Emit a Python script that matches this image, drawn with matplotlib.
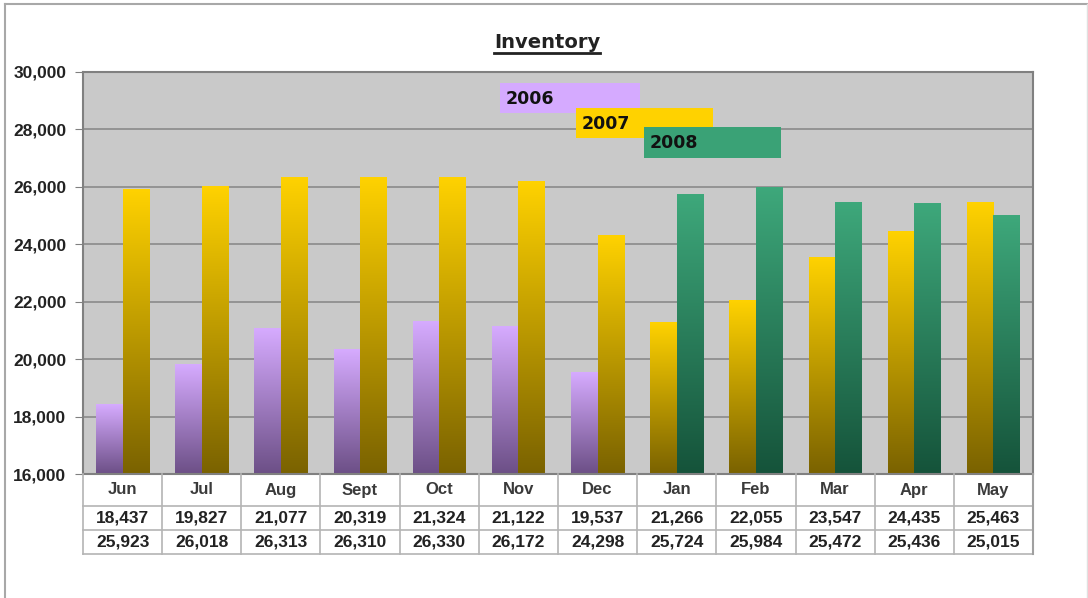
import matplotlib
matplotlib.use("Agg")
import matplotlib.pyplot as plt
import numpy as np
from matplotlib.colors import LinearSegmentedColormap
from matplotlib.patches import Rectangle
from matplotlib.lines import Line2D

# data
months = ["Jun", "Jul", "Aug", "Sept", "Oct", "Nov", "Dec",
          "Jan", "Feb", "Mar", "Apr", "May"]
row1 = [18437, 19827, 21077, 20319, 21324, 21122, 19537,
        21266, 22055, 23547, 24435, 25463]
row2 = [25923, 26018, 26313, 26310, 26330, 26172, 24298,
        25724, 25984, 25472, 25436, 25015]
# which year each bar belongs to
row1_year = ["2006"] * 7 + ["2007"] * 5
row2_year = ["2007"] * 7 + ["2008"] * 5
years = ["2006", "2007", "2008"]

# top / bottom gradient colours per year
grad = {
    "2006": ("#d6abff", "#6c4f86"),
    "2007": ("#ffd200", "#7a6200"),
    "2008": ("#3ea87b", "#15533a"),
}
legend_col = {"2006": "#d5aaff", "2007": "#ffd200", "2008": "#3aa276"}

plt.rcParams["font.family"] = ["Liberation Sans", "DejaVu Sans"]

W, H = 1088, 598
fig = plt.figure(figsize=(W / 100, H / 100), dpi=100)


def fx(px):
    return px / W


def fy(py):
    return 1 - py / H


# outer frame
fig.add_artist(Line2D([fx(5), fx(5)], [fy(4), 0], color="#a8a8a8", lw=1.5))
fig.add_artist(Line2D([fx(5), fx(1087)], [fy(4), fy(4)], color="#a8a8a8", lw=1.5))
fig.add_artist(Line2D([fx(1087), fx(1087)], [fy(4), 0], color="#e0e0e0", lw=1))

left, right, top, bottom = 83, 1033, 72, 474
ax = fig.add_axes([fx(left), fy(bottom), fx(right - left), fy(top) - fy(bottom)])
ax.set_facecolor("#c9c9c9")
ax.set_xlim(-0.5, len(months) - 0.5)
ax.set_ylim(16000, 30000)
ax.set_yticks(np.arange(16000, 30001, 2000))
ax.yaxis.set_major_formatter(matplotlib.ticker.FuncFormatter(lambda v, p: f"{int(v):,}"))
ax.tick_params(axis="y", length=6, color="#808080", labelsize=12.5, pad=6)
for t in ax.get_yticklabels():
    t.set_fontweight("bold")
    t.set_color("#222222")
ax.set_xticks([])
ax.grid(axis="y", color="#8a8a8a", lw=1.2)
ax.set_axisbelow(True)
for s in ax.spines.values():
    s.set_color("#808080")
    s.set_linewidth(1.5)

x = np.arange(len(months))
bw = 0.335
b1 = ax.bar(x - bw / 2, np.array(row1) - 16000, bw, bottom=16000, color="none")
b2 = ax.bar(x + bw / 2, np.array(row2) - 16000, bw, bottom=16000, color="none")

cmaps = {y: LinearSegmentedColormap.from_list(y, [grad[y][1], grad[y][0]]) for y in years}
g = np.linspace(0, 1, 256).reshape(-1, 1)
for bars, yrs in ((b1, row1_year), (b2, row2_year)):
    for rect, yr in zip(bars, yrs):
        x0 = rect.get_x()
        x1 = x0 + rect.get_width()
        y0 = rect.get_y()
        y1 = y0 + rect.get_height()
        ax.imshow(g, extent=[x0, x1, y0, y1], origin="lower", aspect="auto",
                  cmap=cmaps[yr], zorder=2, interpolation="bilinear")
ax.set_xlim(-0.5, len(months) - 0.5)
ax.set_ylim(16000, 30000)

# data table under the plot
tab_bottom = 554
tax = fig.add_axes([fx(left), fy(tab_bottom), fx(right - left), fy(bottom) - fy(tab_bottom)])
tax.set_xlim(-0.5, len(months) - 0.5)
tax.set_ylim(0, 80)
tax.axis("off")
lc = "#b4b4b4"
for yv in (0, 24, 48):
    tax.plot([-0.5, len(months) - 0.5], [yv, yv], color=lc, lw=1.2, clip_on=False)
for k in range(len(months) + 1):
    tax.plot([k - 0.5, k - 0.5], [0, 80], color=lc, lw=1.2, clip_on=False)
tax.plot([len(months) - 0.5] * 2, [0, 80], color="#a0a0a0", lw=1.5, clip_on=False)
for i, m in enumerate(months):
    tax.text(i, 64, m, ha="center", va="center", fontsize=12, fontweight="bold", color="#3a3a3a")
    tax.text(i, 36, f"{row1[i]:,}", ha="center", va="center", fontsize=12.5,
             fontweight="bold", color="#222222")
    tax.text(i, 12, f"{row2[i]:,}", ha="center", va="center", fontsize=12.5,
             fontweight="bold", color="#222222")

# staggered legend boxes
leg_boxes = {"2006": (500, 83, 640, 113), "2007": (576, 108, 713, 138), "2008": (644, 127, 781, 158)}
for yr in years:
    px0, py0, px1, py1 = leg_boxes[yr]
    fig.add_artist(Rectangle((fx(px0), fy(py1)), fx(px1 - px0), fy(py0) - fy(py1),
                             facecolor=legend_col[yr], edgecolor="none", zorder=5))
    fig.text(fx(px0 + 6), fy((py0 + py1) / 2 + 1), yr, ha="left", va="center",
             fontsize=12.5, fontweight="bold", color="#111111", zorder=6,
             family=["DejaVu Sans"])

# title with underline
title = fig.text(fx(547), fy(43), "Inventory", ha="center", va="center",
                 fontsize=14, fontweight="bold", color="#222222", family=["DejaVu Sans"])
fig.canvas.draw()
bb = title.get_window_extent().transformed(fig.transFigure.inverted())
fig.add_artist(Line2D([bb.x0, bb.x1], [fy(53), fy(53)], color="#222222", lw=2))

fig.savefig("out.png", dpi=100)
